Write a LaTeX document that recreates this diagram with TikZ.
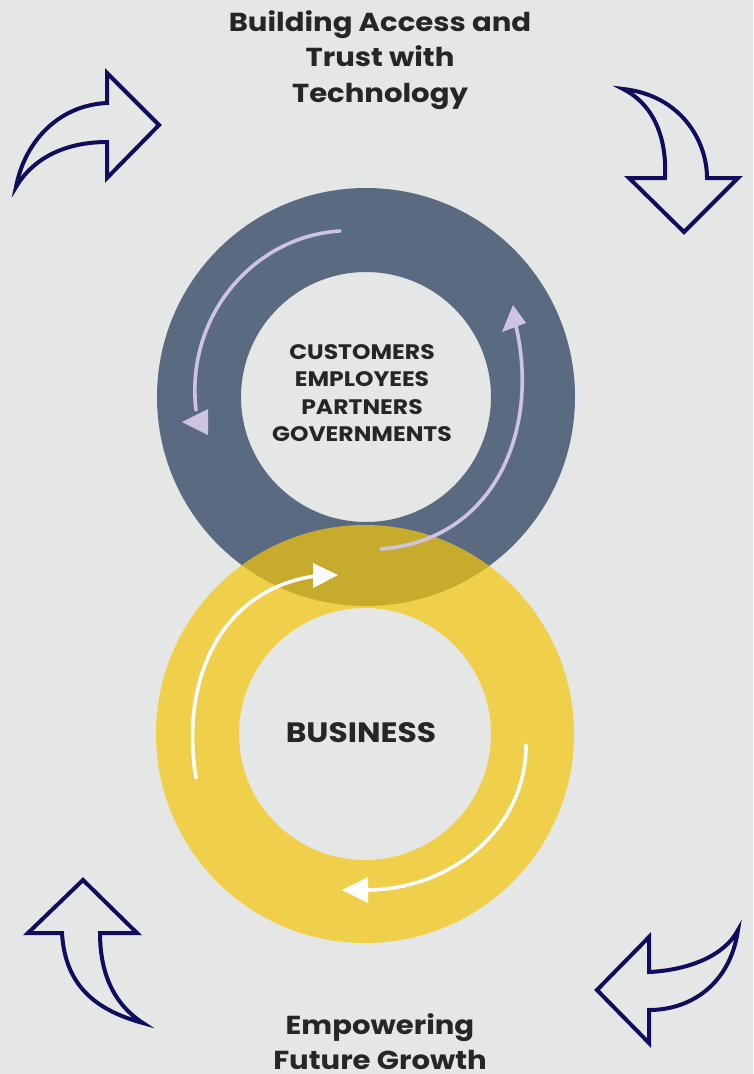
\documentclass[tikz,border=0pt]{standalone}
\usepackage{fontspec}
\setmainfont{Poppins}[FakeStretch=1.12]
\begin{document}
\begin{tikzpicture}[x=1pt,y=-1pt,
  corner/.style={draw=navy,line width=4pt,line join=miter},
  lav/.style={draw=lavender,line width=3.6pt,line cap=round},
  wht/.style={draw=white,line width=3.6pt,line cap=round},
  txt/.style={text=ink,font=\bfseries,align=center,inner sep=0pt}]
\definecolor{bg}{RGB}{229,230,230}
\definecolor{slate}{RGB}{90,106,128}
\definecolor{gold}{RGB}{245,199,10}
\definecolor{navy}{RGB}{16,14,92}
\definecolor{lavender}{RGB}{206,196,226}
\definecolor{ink}{RGB}{38,38,38}
\useasboundingbox (0,0) rectangle (753,1074);
\fill[bg] (0,0) rectangle (753,1074);
% rings
\fill[slate,even odd rule] (366,397) circle[radius=209] (366,397) circle[radius=125];
\fill[gold,fill opacity=0.7,even odd rule] (365,734) circle[radius=209] (365,734) circle[radius=126];
% lavender arrows
\draw[lav] (340,231) .. controls (255,236) and (185,315) .. (196,410);
\fill[lavender] (182,422) -- (208,409) -- (208,435) -- cycle;
\draw[lav] (381,549) .. controls (495,540) and (540,430) .. (516,326);
\fill[lavender] (513,305) -- (502,332) -- (526,323) -- cycle;
% white arrows
\draw[wht] (196,778) .. controls (180,680) and (220,590) .. (315,576);
\fill[white] (338,575) -- (313,563) -- (313,588) -- cycle;
\draw[wht] (526,745) .. controls (526,830) and (450,890) .. (366,890);
\fill[white] (342,890) -- (368,877) -- (368,903) -- cycle;
% corner arrows
\draw[corner] (159,125) -- (107,73) -- (107,103) .. controls (60,105) and (25,140) .. (16,187)
  .. controls (35,155) and (70,142) .. (107,142) -- (107,178) -- cycle;
\draw[corner] (623,89) .. controls (680,95) and (707,140) .. (707,178) -- (738,178) -- (684,232)
  -- (629,178) -- (665,178) .. controls (667,140) and (655,105) .. (623,89) -- cycle;
\draw[corner] (83,880) -- (137,933) -- (100,933) .. controls (100,975) and (115,1005) .. (143,1023)
  .. controls (95,1010) and (65,985) .. (62,933) -- (28,933) -- cycle;
\draw[corner] (597,990) -- (649,937) -- (649,972) .. controls (690,970) and (725,955) .. (738,930)
  .. controls (730,985) and (690,1010) .. (649,1010) -- (649,1043) -- cycle;
% texts
\node[txt,font=\bfseries\fontsize{26}{35.5}\selectfont] (title) at (380,60)
  {Building Access and\\Trust with\\Technology};
\node[txt,font=\bfseries\fontsize{26}{35}\selectfont] (foot) at (380,1042)
  {Empowering\\Future Growth};
\node[txt,font=\bfseries\fontsize{21}{27.5}\selectfont] (stake) at (362,393)
  {CUSTOMERS\\EMPLOYEES\\PARTNERS\\GOVERNMENTS};
\node[txt,font=\bfseries\fontsize{28}{30}\selectfont] (biz) at (361,733) {BUSINESS};
\end{tikzpicture}
\end{document}
